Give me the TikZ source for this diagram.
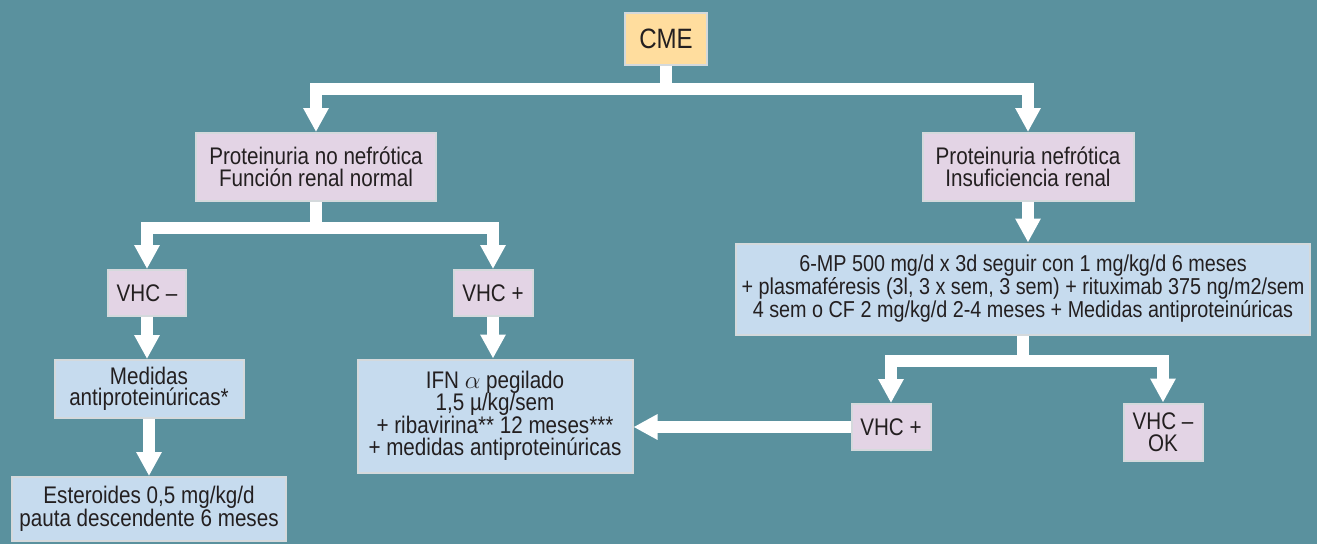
\documentclass[tikz,border=0pt]{standalone}
\usepackage{fontspec}
\setmainfont{Liberation Sans}[FakeStretch=0.86]
\usetikzlibrary{arrows.meta}
\definecolor{PanelTeal}{RGB}{90,145,158}
\definecolor{BoxPink}{RGB}{227,212,229}
\definecolor{BoxBlue}{RGB}{198,219,238}
\definecolor{BoxOrange}{RGB}{255,221,158}
\definecolor{BoxEdge}{RGB}{212,217,220}
\definecolor{InkGrey}{RGB}{35,31,32}

\begin{document}
\begin{tikzpicture}[x=1pt,y=-1pt,
  b/.style={rectangle,draw=BoxEdge,line width=2pt,inner sep=0pt,align=center,text=InkGrey,font=\fontsize{24}{21.5}\selectfont},
  bp/.style={b,fill=BoxPink},
  bb/.style={b,fill=BoxBlue},
  fl/.style={draw=white,line width=12pt,line join=miter,-{Triangle[width=24pt,length=24pt]}}
]
  \fill[PanelTeal] (0,0) rectangle (1317,544);
  \useasboundingbox (0,0) rectangle (1317,544);
  % first level
  \node[b,fill=BoxOrange,minimum width=82pt,minimum height=52pt,font=\fontsize{28}{30}\selectfont] (cme) at (666,39) {CME};
  \node[bp,minimum width=240pt,minimum height=68pt] (pl) at (316,167) {Proteinuria no nefrótica\\Función renal normal};
  \node[bp,minimum width=211pt,minimum height=68pt] (pr) at (1028,167) {Proteinuria nefrótica\\Insuficiencia renal};
  % left branch
  \node[bp,minimum width=78pt,minimum height=46pt] (vn) at (147,293) {VHC --};
  \node[bp,minimum width=79pt,minimum height=46pt] (vp) at (493,293) {VHC +};
  \node[bb,minimum width=189pt,minimum height=58pt] (med) at (149,389) {Medidas\\antiproteinúricas*};
  \node[bb,minimum width=274pt,minimum height=64pt] (est) at (149,509) {Esteroides 0,5 mg/kg/d\\pauta descendente 6 meses};
  \node[bb,minimum width=275pt,minimum height=113pt,font=\fontsize{24}{22.5}\selectfont] (ifn) at (495,416) {IFN $\alpha$ pegilado\\1,5 µ/kg/sem\\+ ribavirina** 12 meses***\\+ medidas antiproteinúricas};
  % right branch
  \node[bb,minimum width=574pt,minimum height=91pt,font=\fontsize{23}{23}\selectfont] (mp) at (1023,289) {6-MP 500 mg/d x 3d seguir con 1 mg/kg/d 6 meses\\+ plasmaféresis (3l, 3 x sem, 3 sem) + rituximab 375 ng/m2/sem\\4 sem o CF 2 mg/kg/d 2-4 meses + Medidas antiproteinúricas};
  \node[bp,minimum width=79pt,minimum height=46pt] (vp2) at (891,427) {VHC +};
  \node[bp,minimum width=79pt,minimum height=57pt] (ok) at (1163,432) {VHC --\\OK};

  \coordinate (ja) at (666,89);
  \coordinate (jb) at (316,228);
  \coordinate (jc) at (1023,361);
  \draw[fl] (cme.south) -- (ja) -| (pl.north);
  \draw[fl] (ja) -| (pr.north);
  \draw[fl] (pl.south) -- (jb) -| (vn.north);
  \draw[fl] (jb) -| (vp.north);
  \draw[fl] (vn.south) -- (vn.south |- med.north);
  \draw[fl] (med.south) -- (med.south |- est.north);
  \draw[fl] (vp.south) -- (vp.south |- ifn.north);
  \draw[fl] (pr.south) -- (pr.south |- mp.north);
  \draw[fl] (mp.south) -- (jc) -| (vp2.north);
  \draw[fl] (jc) -| (ok.north);
  \draw[fl] (vp2.west) -- (vp2.west -| ifn.east);
\end{tikzpicture}
\end{document}
